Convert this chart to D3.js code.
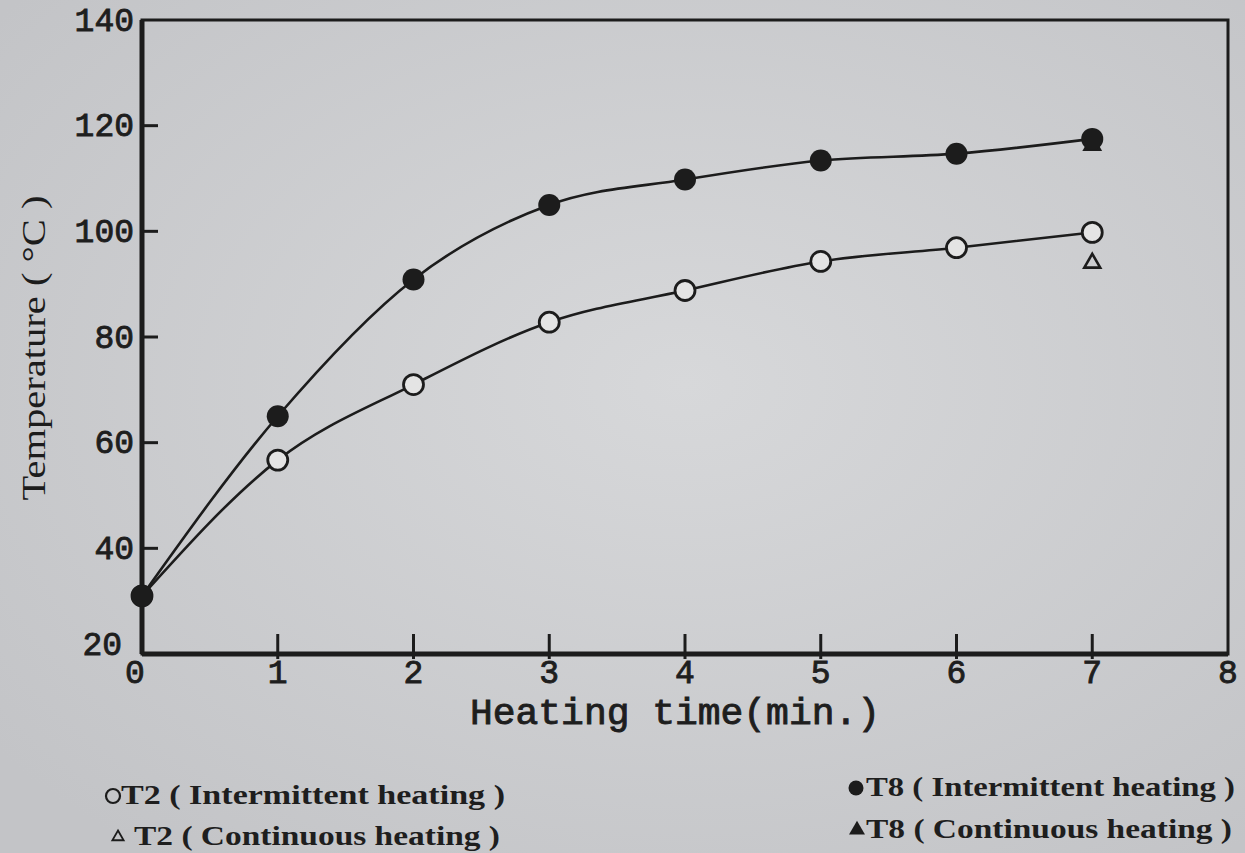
<!DOCTYPE html>
<html>
<head>
<meta charset="utf-8">
<script src="https://cdn.jsdelivr.net/npm/d3@7"></script>
<style>
  html, body { margin: 0; padding: 0; background: #cfcfd1; }
  svg { display: block; }
  .tick-label { font-family: "Liberation Mono", "DejaVu Sans Mono", monospace; fill: #1e1e1e; stroke: #1e1e1e; stroke-width: 0.9; }
  .legend text { font-family: "Liberation Serif", serif; font-weight: bold; fill: #1e1e1e; }
</style>
</head>
<body>
<svg id="chart" width="1245" height="853"></svg>
<script>
// values
const times = [0, 1, 2, 3, 4, 5, 6, 7];
const t2Intermittent = [31, 56.7, 71, 82.8, 88.8, 94.3, 96.9, 99.8];
const t8Intermittent = [31, 65, 90.9, 105, 109.8, 113.4, 114.7, 117.5];
const continuousTimes = [7];
const t2Continuous = [94];
const t8Continuous = [116.3];
const xTicks = [0, 1, 2, 3, 4, 5, 6, 7, 8];
const yTicks = [20, 40, 60, 80, 100, 120, 140];
const legendLabels = [
  "T2 ( Intermittent heating )",
  "T2 ( Continuous heating )",
  "T8 ( Intermittent heating )",
  "T8 ( Continuous heating )"
];

const svg = d3.select("#chart");
const ink = "#1c1c1c";

// paper background, a bit darker toward the edges like the photo
const defs = svg.append("defs");
const grad = defs.append("radialGradient").attr("id", "paper")
  .attr("cx", "55%").attr("cy", "45%").attr("r", "70%");
grad.append("stop").attr("offset", "0%").attr("stop-color", "#d7d8da");
grad.append("stop").attr("offset", "100%").attr("stop-color", "#c3c4c7");
svg.append("rect").attr("width", 1245).attr("height", 853).attr("fill", "url(#paper)");

const x = d3.scaleLinear().domain([0, 8]).range([142, 1228]);
const y = d3.scaleLinear().domain([20, 140]).range([654, 20]);

// frame
svg.append("rect")
  .attr("x", x(0)).attr("y", y(140))
  .attr("width", x(8) - x(0)).attr("height", y(20) - y(140))
  .attr("fill", "none").attr("stroke", ink).attr("stroke-width", 3);
// heavier left and bottom axes
svg.append("line").attr("x1", x(0)).attr("x2", x(0)).attr("y1", y(140)).attr("y2", y(20))
  .attr("stroke", ink).attr("stroke-width", 5);
svg.append("line").attr("x1", x(0)).attr("x2", x(8)).attr("y1", y(20)).attr("y2", y(20))
  .attr("stroke", ink).attr("stroke-width", 5);

// y ticks (inside) and labels
svg.selectAll(".ytick").data(yTicks.filter(d => d > 20 && d < 140))
  .enter().append("line")
    .attr("x1", x(0)).attr("x2", x(0) + 16)
    .attr("y1", d => y(d)).attr("y2", d => y(d))
    .attr("stroke", ink).attr("stroke-width", 3);

svg.selectAll(".ylab").data(yTicks)
  .enter().append("text")
    .attr("class", "tick-label")
    .attr("x", d => d === 20 ? x(0) - 20 : x(0) - 8)
    .attr("y", d => d === 20 ? y(d) - 8 : y(d) + 2)
    .attr("text-anchor", "end")
    .attr("dominant-baseline", "middle")
    .attr("font-size", 33)
    .text(d => d);

// x ticks (crossing the axis) and labels
svg.selectAll(".xtick").data(xTicks.filter(d => d > 0 && d < 8))
  .enter().append("line")
    .attr("x1", d => x(d)).attr("x2", d => x(d))
    .attr("y1", y(20) - 20).attr("y2", y(20) + 5)
    .attr("stroke", ink).attr("stroke-width", 3);

svg.selectAll(".xlab").data(xTicks)
  .enter().append("text")
    .attr("class", "tick-label")
    .attr("x", d => d === 0 ? x(d) - 7 : x(d))
    .attr("y", y(20) + 29)
    .attr("text-anchor", "middle")
    .attr("font-size", 33)
    .text(d => d);

// axis titles
svg.append("text")
  .attr("class", "tick-label")
  .attr("x", 675).attr("y", 724)
  .attr("text-anchor", "middle")
  .attr("font-size", 36)
  .attr("textLength", 410)
  .attr("lengthAdjust", "spacingAndGlyphs")
  .text("Heating time(min.)");

svg.append("text")
  .attr("transform", "translate(45, 348) rotate(-90)")
  .attr("text-anchor", "middle")
  .attr("font-family", "Liberation Serif, serif")
  .attr("font-size", 34)
  .attr("textLength", 305)
  .attr("lengthAdjust", "spacingAndGlyphs")
  .attr("fill", ink)
  .text("Temperature ( °C )");

// curves
const line = d3.line()
  .x(d => x(d[0])).y(d => y(d[1]))
  .curve(d3.curveMonotoneX);

const t2Points = times.map((t, i) => [t, t2Intermittent[i]]);
const t8Points = times.map((t, i) => [t, t8Intermittent[i]]);

[t2Points, t8Points].forEach(pts => {
  svg.append("path")
    .attr("d", line(pts))
    .attr("fill", "none").attr("stroke", ink).attr("stroke-width", 2.6);
});

// continuous heating markers (triangles)
const tri = d3.symbol().type(d3.symbolTriangle);
svg.selectAll(".t8c").data(continuousTimes.map((t, i) => [t, t8Continuous[i]]))
  .enter().append("path")
    .attr("transform", d => `translate(${x(d[0])},${y(d[1])})`)
    .attr("d", tri.size(170)())
    .attr("fill", ink);
svg.selectAll(".t2c").data(continuousTimes.map((t, i) => [t, t2Continuous[i]]))
  .enter().append("path")
    .attr("transform", d => `translate(${x(d[0])},${y(d[1])})`)
    .attr("d", tri.size(110)())
    .attr("fill", "none").attr("stroke", ink).attr("stroke-width", 2.6);

// intermittent heating markers (circles)
svg.selectAll(".t2i").data(t2Points)
  .enter().append("circle")
    .attr("cx", d => x(d[0])).attr("cy", d => y(d[1])).attr("r", 10)
    .attr("fill", "#e4e4e4").attr("stroke", ink).attr("stroke-width", 2.8);
svg.selectAll(".t8i").data(t8Points)
  .enter().append("circle")
    .attr("cx", d => x(d[0])).attr("cy", d => y(d[1])).attr("r", 11)
    .attr("fill", ink);

// legend
const legend = svg.append("g").attr("class", "legend");
const legendPos = [
  { sx: 113, sy: 796, tx: 121, ty: 804, w: 384 },
  { sx: 118, sy: 837, tx: 134, ty: 845, w: 366 },
  { sx: 856, sy: 788, tx: 866, ty: 796, w: 369 },
  { sx: 857, sy: 830, tx: 866, ty: 838, w: 366 }
];
legendLabels.forEach((label, i) => {
  const p = legendPos[i];
  if (i === 0) {
    legend.append("circle").attr("cx", p.sx).attr("cy", p.sy).attr("r", 7)
      .attr("fill", "none").attr("stroke", ink).attr("stroke-width", 2.2);
  } else if (i === 2) {
    legend.append("circle").attr("cx", p.sx).attr("cy", p.sy).attr("r", 7.5).attr("fill", ink);
  } else {
    legend.append("path")
      .attr("transform", `translate(${p.sx},${p.sy})`)
      .attr("d", tri.size(i === 3 ? 110 : 55)())
      .attr("fill", i === 3 ? ink : "none")
      .attr("stroke", ink).attr("stroke-width", i === 3 ? 0 : 1.8);
  }
  legend.append("text")
    .attr("x", p.tx).attr("y", p.ty)
    .attr("font-size", 28)
    .attr("textLength", p.w)
    .attr("lengthAdjust", "spacingAndGlyphs")
    .text(label);
});
</script>
</body>
</html>
